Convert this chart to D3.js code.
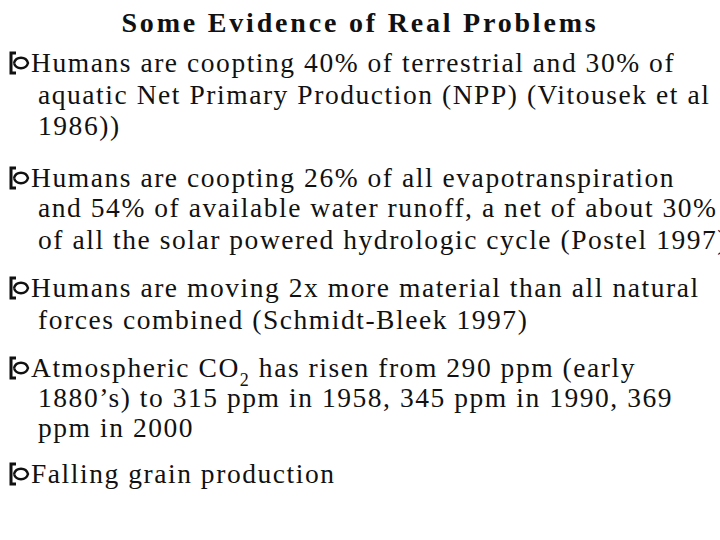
<!DOCTYPE html>
<html><head><meta charset="utf-8">
<script src="https://cdn.jsdelivr.net/npm/d3@7"></script>
<style>body{margin:0;background:#fff}</style></head>
<body><svg id="c" width="720" height="540"></svg>
<script>
const title = "Some Evidence of Real Problems";
// each line: [text, startsBullet]
const lines = [
 ["Humans are coopting 40% of terrestrial and 30% of", true],
 ["aquatic Net Primary Production (NPP) (Vitousek et al", false],
 ["1986))", false],
 ["Humans are coopting 26% of all evapotranspiration", true],
 ["and 54% of available water runoff, a net of about 30%", false],
 ["of all the solar powered hydrologic cycle (Postel 1997)", false],
 ["Humans are moving 2x more material than all natural", true],
 ["forces combined (Schmidt-Bleek 1997)", false],
 ["Atmospheric CO|2| has risen from 290 ppm (early", true],
 ["1880’s) to 315 ppm in 1958, 345 ppm in 1990, 369", false],
 ["ppm in 2000", false],
 ["Falling grain production", true]
];
const baselines = [72,104,135,187,217,249,297,329,377,407,437,483];
const svg = d3.select("#c");
const font = "'Liberation Serif','DejaVu Serif',serif";
svg.append("text").attr("x",360).attr("y",32).attr("text-anchor","middle")
  .attr("font-family",font).attr("font-weight","bold").attr("font-size",28)
  .attr("letter-spacing",2.8).attr("fill","#111").text(title);
lines.forEach((l,i)=>{
  const y = baselines[i];
  const t = svg.append("text").attr("x", l[1]?31:38).attr("y",y)
    .attr("font-family",font).attr("font-size",27.5).attr("letter-spacing",1.55).attr("fill","#111");
  const parts = l[0].split("|");
  let cur = t.append("tspan").text(parts[0]);
  if (parts.length>1){
    t.append("tspan").attr("font-size",18).attr("baseline-shift","-5").attr("dy",4).text(parts[1]);
    t.append("tspan").attr("dy",-4).text(parts[2]);
  }
  if (l[1]) {
    const g = svg.append("g").attr("transform",`translate(8,${y-19})`);
    g.append("path").attr("d","M8,0 H3 V20 H8").attr("fill","none").attr("stroke","#111").attr("stroke-width",3);
    g.append("path").attr("d","M6,10 C8,3 18,3 20,10 C18,17 8,17 6,10").attr("fill","none").attr("stroke","#111").attr("stroke-width",2.5);
  }
});
</script></body></html>
